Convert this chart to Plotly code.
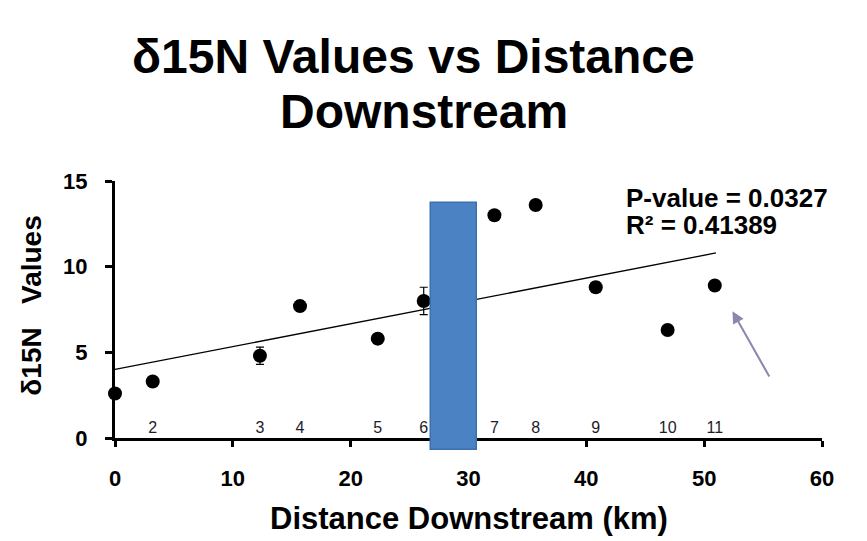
import plotly.graph_objects as go

# Site data
site_labels = ["1", "2", "3", "4", "5", "6", "7", "8", "9", "10", "11"]
distance_km = [0.0, 3.2, 12.3, 15.7, 22.3, 26.2, 32.2, 35.7, 40.8, 46.9, 50.9]
d15n_values = [2.6, 3.3, 4.8, 7.7, 5.8, 8.0, 13.0, 13.6, 8.8, 6.3, 8.9]
d15n_error = [0.2, 0.2, 0.5, 0.3, 0.3, 0.8, 0.2, 0.2, 0.3, 0.2, 0.2]

# Linear trendline endpoints
trend_x = [0.0, 51.0]
trend_y = [4.0, 10.8]

# Highlighted blue column
bar_center = [28.75]
bar_top = [13.7]
bar_base = [-0.7]
bar_width = [3.9]

# Arrow (data coordinates)
arrow_head = (52.4, 7.4)
arrow_tail = (55.6, 3.5)

y_max = 15
y2_lo = bar_base[0]
dom_lo = -y2_lo / (y_max - y2_lo)

FONT = "Liberation Sans, Arial, sans-serif"

fig = go.Figure()

fig.add_trace(go.Scatter(
    x=trend_x, y=trend_y, mode="lines",
    line=dict(color="black", width=1.3),
    showlegend=False, hoverinfo="skip",
))

fig.add_trace(go.Scatter(
    x=distance_km, y=d15n_values, mode="markers",
    marker=dict(color="black", size=14),
    error_y=dict(type="data", array=d15n_error, color="black", thickness=1.2, width=4),
    cliponaxis=False, showlegend=False,
))

fig.add_trace(go.Scatter(
    x=distance_km[1:], y=[0.55] * (len(distance_km) - 1),
    mode="text", text=site_labels[1:],
    textfont=dict(family=FONT, size=16, color="#1c1c2a"),
    cliponaxis=False, showlegend=False, hoverinfo="skip",
))

fig.add_trace(go.Bar(
    x=bar_center, y=[t - b for t, b in zip(bar_top, bar_base)], base=bar_base,
    width=bar_width, yaxis="y2",
    marker=dict(color="#4b82c3", line=dict(color="#3d70ad", width=1.5)),
    showlegend=False,
))

fig.add_annotation(
    x=arrow_head[0], y=arrow_head[1], ax=arrow_tail[0], ay=arrow_tail[1],
    xref="x", yref="y", axref="x", ayref="y",
    showarrow=True, arrowhead=2, arrowsize=1.2, arrowwidth=2,
    arrowcolor="#8a88ad", text="",
)

# regression stats
fig.add_annotation(
    x=0.72, y=0.935, xref="paper", yref="paper", xanchor="left", yanchor="middle",
    text="<b>P-value = 0.0327</b>", showarrow=False,
    font=dict(family=FONT, size=26, color="black"),
)
fig.add_annotation(
    x=0.72, y=0.838, xref="paper", yref="paper", xanchor="left", yanchor="middle",
    text="<b>R² = 0.41389</b>", showarrow=False,
    font=dict(family=FONT, size=26, color="black"),
)

# title (two lines)
fig.add_annotation(
    x=0.4215, y=1.463, xref="paper", yref="paper", xanchor="center", yanchor="middle",
    text="<b>δ15N Values vs Distance</b>", showarrow=False,
    font=dict(family=FONT, size=48, color="black"),
)
fig.add_annotation(
    x=0.437, y=1.258, xref="paper", yref="paper", xanchor="center", yanchor="middle",
    text="<b>Downstream</b>", showarrow=False,
    font=dict(family=FONT, size=48, color="black"),
)

# axis titles
fig.add_annotation(
    x=-0.118, y=0.535, xref="paper", yref="paper", xanchor="center", yanchor="middle",
    text="<b>δ15N   Values</b>", textangle=-90, showarrow=False,
    font=dict(family=FONT, size=28, color="black"),
)
fig.add_annotation(
    x=0.5, y=-0.253, xref="paper", yref="paper", xanchor="center", yanchor="middle",
    text="<b>Distance Downstream (km)</b>", showarrow=False,
    font=dict(family=FONT, size=31, color="black"),
)

fig.update_layout(
    width=867, height=541,
    paper_bgcolor="white", plot_bgcolor="rgba(0,0,0,0)",
    margin=dict(l=115, r=45, t=181, b=91),
    font=dict(family=FONT, color="black"),
    showlegend=False,
    bargap=0,
    xaxis=dict(
        range=[0, 60], tickvals=[0, 10, 20, 30, 40, 50, 60],
        showline=True, linecolor="black", linewidth=3,
        ticks="outside", ticklen=6, tickwidth=3, tickcolor="black",
        showgrid=False, zeroline=False, layer="below traces",
        ticklabelstandoff=13,
        tickfont=dict(family=FONT, size=22, color="black", weight="bold"),
        anchor="y",
    ),
    yaxis=dict(
        domain=[dom_lo, 1],
        range=[0, y_max], tickvals=[0, 5, 10, 15],
        showline=True, linecolor="black", linewidth=3,
        ticks="outside", ticklen=7, tickwidth=3, tickcolor="black",
        showgrid=False, zeroline=False, layer="below traces",
        ticklabelstandoff=13,
        tickfont=dict(family=FONT, size=22, color="black", weight="bold"),
        anchor="x",
    ),
    yaxis2=dict(
        domain=[0, 1], range=[y2_lo, y_max], anchor="x", visible=False,
    ),
)

fig.write_html(
    "out.html",
    config={"displayModeBar": False},
    post_script="document.body.style.margin='0';",
)
